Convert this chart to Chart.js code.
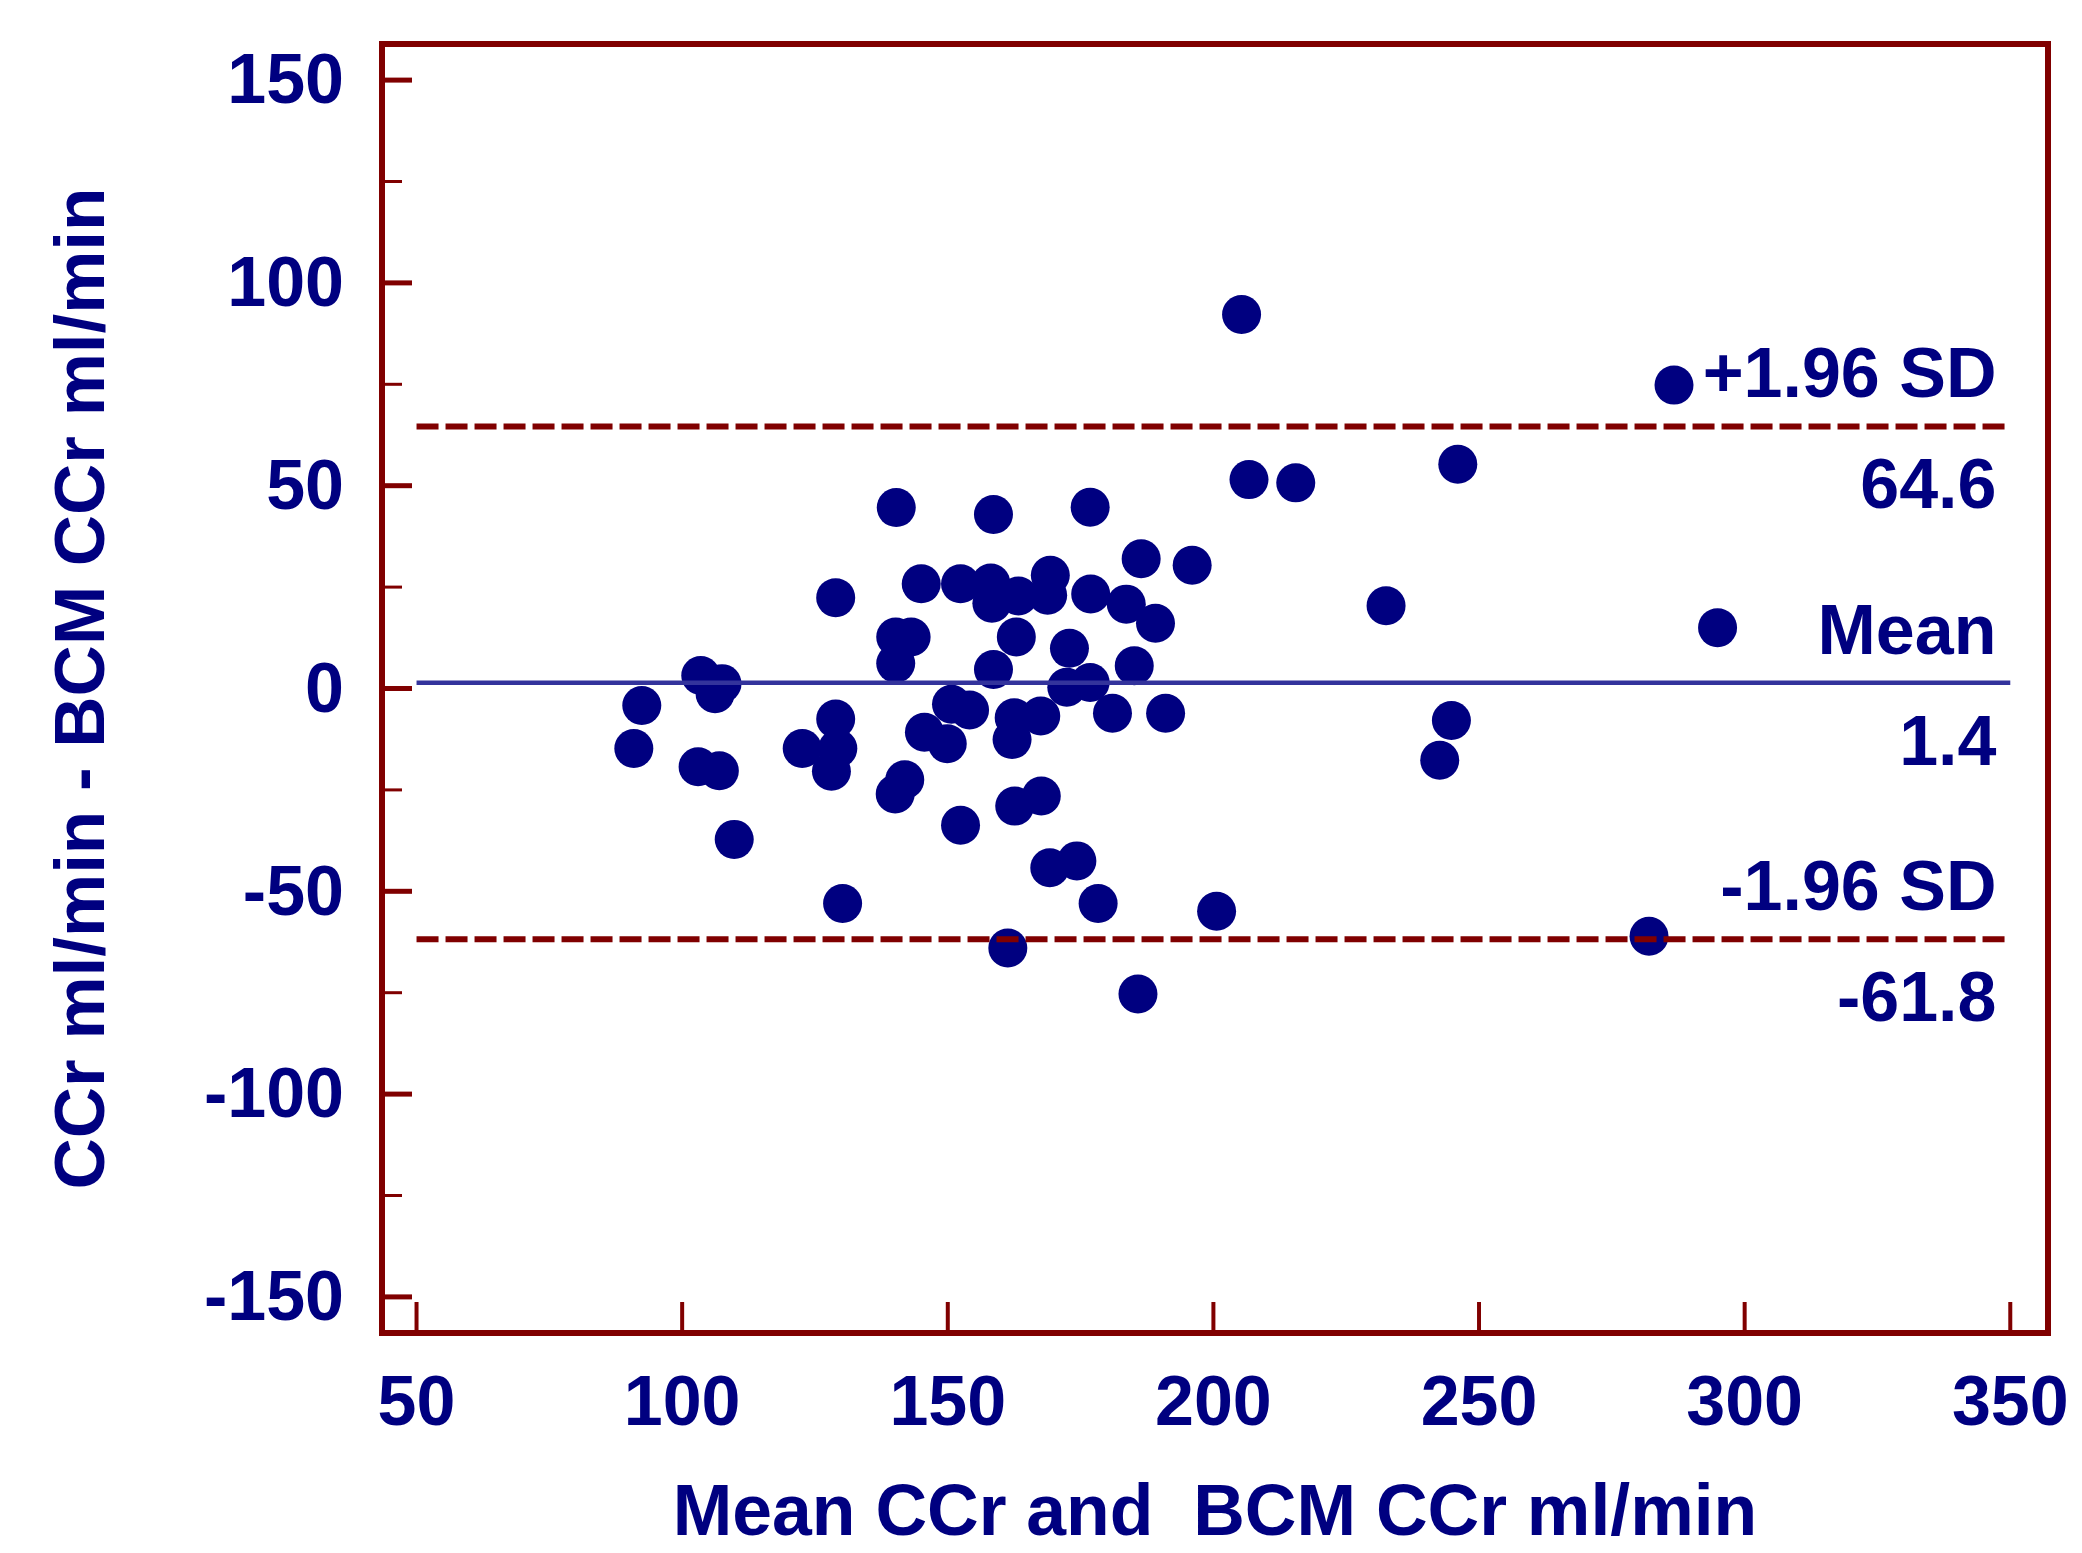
<!DOCTYPE html>
<html>
<head>
<meta charset="utf-8">
<script src="https://cdn.jsdelivr.net/npm/chart.js@4/dist/chart.umd.min.js"></script>
<style>
  html, body { margin: 0; padding: 0; background: #ffffff; }
  #wrap { width: 2082px; height: 1553px; }
</style>
</head>
<body>
<div id="wrap"><canvas id="c" width="2082" height="1553"></canvas></div>
<script>
// ---- data ----
const meanCCr = [
  92.4, 90.9, 103.5, 107.5, 106.2, 103.0, 107.0, 109.8, 122.6, 128.9,
  129.3, 128.1, 130.2, 128.9, 140.3, 140.2, 143.1, 140.2, 145.0, 152.4,
  158.1, 158.3, 163.3, 169.3, 168.8, 158.6, 176.8, 162.9, 158.6, 172.9,
  176.9, 183.6, 189.1, 185.1, 186.4, 196.0, 172.4, 176.8, 181.0, 191.0,
  145.6, 149.9, 150.7, 154.1, 162.5, 162.1, 167.5, 141.9, 140.1, 152.4,
  162.6, 167.6, 169.2, 174.3, 178.3, 161.3, 185.8, 200.6, 205.3, 206.7,
  215.5, 232.5, 246.0, 244.8, 242.6, 282.0, 286.7, 294.9
];
const diffCCr = [
  -4.2, -14.8, 3.2, 1.2, -1.3, -19.3, -20.3, -37.2, -14.8, -7.5,
  -14.8, -20.4, -53.0, 22.4, 44.6, 12.7, 12.7, 6.2, 25.8, 25.8,
  26.0, 21.0, 22.8, 27.9, 23.0, 42.9, 44.7, 12.7, 4.7, 9.9,
  23.3, 20.8, 16.1, 5.6, 32.0, 30.4, 0.3, 1.5, -6.1, -6.1,
  -10.8, -13.6, -3.9, -5.3, -7.2, -12.6, -6.8, -22.5, -26.0, -33.7,
  -29.0, -26.5, -44.2, -42.5, -53.0, -64.0, -75.3, -54.9, 92.2, 51.5,
  50.7, 20.4, 55.3, -7.9, -17.7, -61.1, 74.8, 15.0
];
const limitNames = ['+1.96 SD', 'Mean', '-1.96 SD'];
const limitValues = [64.6, 1.4, -61.8];
const limitValueLabels = ['64.6', '1.4', '-61.8'];
const limitLineX = [50, 350];
const xTickValues = [50, 100, 150, 200, 250, 300, 350];
const yTickValues = [-150, -100, -50, 0, 50, 100, 150];
const yMinorTickValues = [-125, -75, -25, 25, 75, 125];
const xTitle = 'Mean CCr and  BCM CCr ml/min';
const yTitle = 'CCr ml/min - BCM CCr ml/min';

// ---- styles ----
const NAVY = '#000080';
const MAROON = '#800000';
const MEAN_BLUE = '#33339c';
const FONT = "'Liberation Sans', Arial, sans-serif";
const labelAnchorX = 347.4;

Chart.defaults.font.family = FONT;

const lineDatasets = limitValues.map((v, i) => ({
  type: 'line',
  label: limitNames[i],
  data: limitLineX.map(x => ({ x: x, y: v })),
  borderColor: i === 1 ? MEAN_BLUE : MAROON,
  borderWidth: i === 1 ? 4.5 : 6,
  borderDash: i === 1 ? [] : [22, 7],
  pointRadius: 0,
  fill: false,
  order: 0
}));

const pointDataset = {
  type: 'scatter',
  label: 'Differences',
  data: meanCCr.map((x, i) => ({ x: x, y: diffCCr[i] })),
  backgroundColor: NAVY,
  borderWidth: 0,
  pointRadius: 19.5,
  pointHoverRadius: 19.5,
  order: 1
};

const framePlugin = {
  id: 'frameAndLabels',
  afterDatasetsDraw(chart) {
    const { ctx, chartArea: a, scales: { x, y } } = chart;
    ctx.save();
    ctx.strokeStyle = MAROON;
    ctx.lineCap = 'butt';
    // inward y major ticks
    ctx.lineWidth = 5;
    yTickValues.forEach(v => {
      const py = y.getPixelForValue(v);
      ctx.beginPath(); ctx.moveTo(a.left, py); ctx.lineTo(a.left + 30, py); ctx.stroke();
    });
    // inward y minor ticks
    ctx.lineWidth = 3;
    yMinorTickValues.forEach(v => {
      const py = y.getPixelForValue(v);
      ctx.beginPath(); ctx.moveTo(a.left, py); ctx.lineTo(a.left + 20, py); ctx.stroke();
    });
    // inward x ticks
    ctx.lineWidth = 4;
    xTickValues.forEach(v => {
      const px = x.getPixelForValue(v);
      ctx.beginPath(); ctx.moveTo(px, a.bottom); ctx.lineTo(px, a.bottom - 31); ctx.stroke();
    });
    // frame
    ctx.lineWidth = 6;
    ctx.strokeRect(a.left, a.top, a.right - a.left, a.bottom - a.top);
    // limit labels
    ctx.fillStyle = NAVY;
    ctx.font = 'bold 70px ' + FONT;
    ctx.textAlign = 'right';
    ctx.textBaseline = 'alphabetic';
    const lx = x.getPixelForValue(labelAnchorX);
    limitValues.forEach((v, i) => {
      const py = y.getPixelForValue(v);
      ctx.fillText(limitNames[i], lx, py - 29);
      ctx.fillText(limitValueLabels[i], lx, py + 82);
    });
    ctx.restore();
  }
};

new Chart(document.getElementById('c'), {
  data: { datasets: [...lineDatasets, pointDataset] },
  options: {
    responsive: false,
    animation: false,
    devicePixelRatio: 1,
    events: [],
    layout: { padding: { top: 44, right: 34, left: 0, bottom: 0 } },
    plugins: { legend: { display: false }, tooltip: { enabled: false } },
    scales: {
      x: {
        type: 'linear',
        position: 'bottom',
        min: 43.5,
        max: 357.1,
        afterBuildTicks: s => { s.ticks = xTickValues.map(v => ({ value: v })); },
        afterFit: s => { s.height = 220; s.paddingLeft = 0; s.paddingRight = 0; },
        grid: { display: false, drawTicks: false, tickLength: 0 },
        border: { display: false },
        ticks: {
          autoSkip: false, maxRotation: 0, minRotation: 0,
          padding: 31,
          color: NAVY,
          font: { size: 70, weight: 'bold', family: FONT },
          callback: v => String(v)
        },
        title: {
          display: true, text: xTitle, color: NAVY,
          font: { size: 71.5, weight: 'bold', family: FONT },
          padding: { top: 0, bottom: -5 }
        }
      },
      y: {
        type: 'linear',
        position: 'left',
        min: -158.9,
        max: 158.9,
        afterBuildTicks: s => { s.ticks = yTickValues.map(v => ({ value: v })); },
        afterFit: s => { s.width = 382; s.paddingTop = 0; s.paddingBottom = 0; },
        grid: { display: false, drawTicks: false, tickLength: 0 },
        border: { display: false },
        ticks: {
          autoSkip: false,
          padding: 38,
          labelOffset: 4,
          color: NAVY,
          font: { size: 70, weight: 'bold', family: FONT },
          callback: v => String(v)
        },
        title: {
          display: true, text: yTitle, color: NAVY,
          font: { size: 71, weight: 'bold', family: FONT },
          padding: { top: 42, bottom: 0 }
        }
      }
    }
  },
  plugins: [framePlugin]
});
</script>
</body>
</html>
